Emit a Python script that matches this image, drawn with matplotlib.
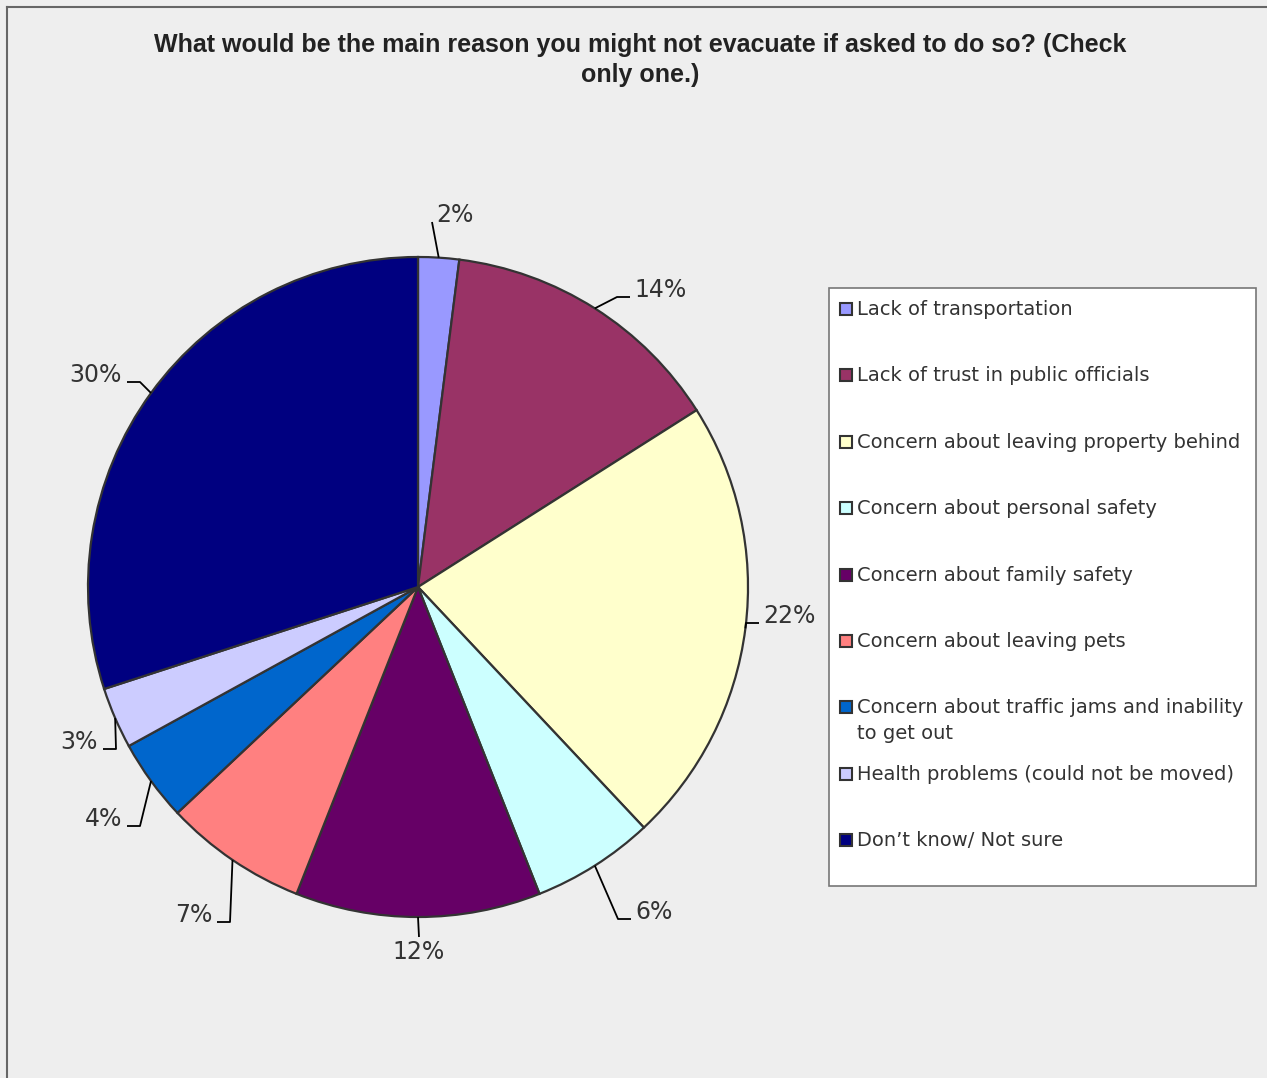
import numpy as np
import matplotlib
matplotlib.use("Agg")
import matplotlib.pyplot as plt
from matplotlib.lines import Line2D
from matplotlib.patches import Rectangle

W, H = 1267, 1078

TITLE = "What would be the main reason you might not evacuate if asked to do so? (Check\nonly one.)"

CATEGORIES = [
    "Lack of transportation",
    "Lack of trust in public officials",
    "Concern about leaving property behind",
    "Concern about personal safety",
    "Concern about family safety",
    "Concern about leaving pets",
    "Concern about traffic jams and inability\nto get out",
    "Health problems (could not be moved)",
    "Don\u2019t know/ Not sure",
]
VALUES = [2, 14, 22, 6, 12, 7, 4, 3, 30]
COLORS = ["#9999ff", "#993366", "#ffffcc", "#ccffff", "#660066",
          "#ff8080", "#0066cc", "#ccccff", "#000080"]

# label anchors in image pixels (x, baseline y, alignment, hook length)
LABEL_POS = [(436, 222, "left", 0), (634, 297, "left", 13), (763, 623, "left", 13),
             (635, 919, "left", 13), (419, 940, "center", 0), (212, 922, "right", 13),
             (122, 826, "right", 13), (98, 749, "right", 13), (122, 382, "right", 13)]

BG = "#eeeeee"
TXT = "#333333"
CX, CY, R = 418, 587, 330


def px(x, y):
    return (x - CX) / R, (CY - y) / R


fig = plt.figure(figsize=(W / 100, H / 100), dpi=100, facecolor=BG)
ax = fig.add_axes([0, 0, 1, 1])
ax.set_facecolor(BG)

wedges, _ = ax.pie(VALUES, colors=COLORS, startangle=90, counterclock=False,
                   radius=1, center=(0, 0),
                   wedgeprops=dict(edgecolor="#333333", linewidth=1.6))
ax.set_xlim(-CX / R, (W - CX) / R)
ax.set_ylim((CY - H) / R, CY / R)
ax.set_aspect("equal")
ax.axis("off")

for w, val, (lx, ly, ha, hook) in zip(wedges, VALUES, LABEL_POS):
    mid = np.deg2rad((w.theta1 + w.theta2) / 2)
    ex, ey = np.cos(mid), np.sin(mid)
    if ha == "left":
        end = px(lx - 4, ly)
        elbow = px(lx - 4 - hook, ly)
        va = "baseline"
    elif ha == "right":
        end = px(lx + 5, ly)
        elbow = px(lx + 5 + hook, ly)
        va = "baseline"
    else:
        end = px(lx, ly - 3)
        elbow = end
        va = "top"
    ax.plot([ex, elbow[0], end[0]], [ey, elbow[1], end[1]], color="black", lw=1.3,
            solid_capstyle="butt")
    tx, ty = px(lx, ly)
    ax.text(tx, ty, f"{val}%", ha=ha, va=va, fontsize=17, color=TXT)

fig.text(640 / W, 1 - 60 / H, TITLE, ha="center", va="center", fontsize=18,
         fontweight="bold", family=["Liberation Sans", "DejaVu Sans"], color="#222222",
         linespacing=1.3)

# legend box
lx0, ly0, lx1, ly1 = 829, 288, 1256, 886
fig.patches.append(Rectangle((lx0 / W, 1 - ly1 / H), (lx1 - lx0) / W, (ly1 - ly0) / H,
                             transform=fig.transFigure, facecolor="white",
                             edgecolor="#777777", linewidth=1.2))
for i, (cat, col) in enumerate(zip(CATEGORIES, COLORS)):
    yc = 309 + i * 66.4
    fig.patches.append(Rectangle((840 / W, 1 - (yc + 6) / H), 12 / W, 12 / H,
                                 transform=fig.transFigure, facecolor=col,
                                 edgecolor="#333333", linewidth=1.5))
    fig.text(857 / W, 1 - (yc - 9) / H, cat, ha="left", va="top", fontsize=14,
             color=TXT, linespacing=1.42)

# outer border (top and left)
fig.add_artist(Line2D([7 / W, 1], [1 - 7 / H, 1 - 7 / H], transform=fig.transFigure,
                      color="#666666", lw=1.5))
fig.add_artist(Line2D([7 / W, 7 / W], [0, 1 - 7 / H], transform=fig.transFigure,
                      color="#666666", lw=1.5))

fig.savefig("out.png", dpi=100, facecolor=BG)
